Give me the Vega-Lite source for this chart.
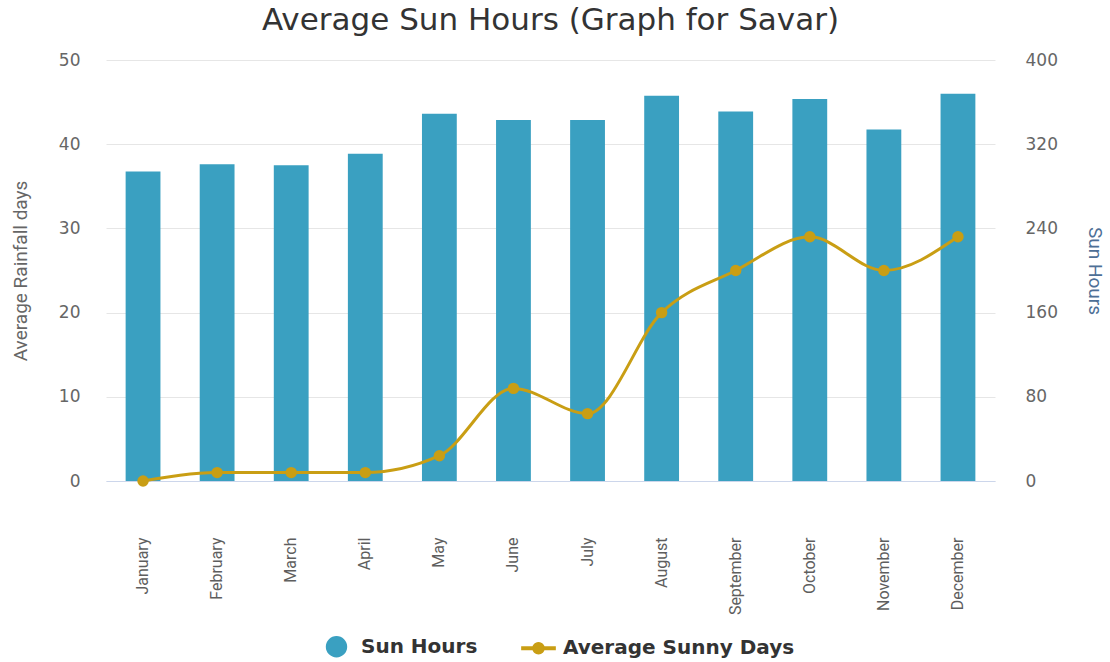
{
  "$schema": "https://vega.github.io/schema/vega-lite/v6.json",
  "width": 889,
  "height": 421,
  "autosize": {"type": "none"},
  "padding": {"left": 106, "top": 60, "right": 115, "bottom": 181},
  "background": "white",
  "title": {
    "text": "Average Sun Hours (Graph for Savar)",
    "font": "DejaVu Sans",
    "fontSize": 31,
    "fontWeight": "normal",
    "color": "#333333",
    "offset": 14,
    "anchor": "middle"
  },
  "data": {
    "values": [
      {"month": "January", "sun_hours": 294, "sunny_days": 0},
      {"month": "February", "sun_hours": 301, "sunny_days": 1},
      {"month": "March", "sun_hours": 300, "sunny_days": 1},
      {"month": "April", "sun_hours": 311, "sunny_days": 1},
      {"month": "May", "sun_hours": 349, "sunny_days": 3},
      {"month": "June", "sun_hours": 343, "sunny_days": 11},
      {"month": "July", "sun_hours": 343, "sunny_days": 8},
      {"month": "August", "sun_hours": 366, "sunny_days": 20},
      {"month": "September", "sun_hours": 351, "sunny_days": 25},
      {"month": "October", "sun_hours": 363, "sunny_days": 29},
      {"month": "November", "sun_hours": 334, "sunny_days": 25},
      {"month": "December", "sun_hours": 368, "sunny_days": 29}
    ]
  },
  "encoding": {
    "x": {
      "field": "month",
      "type": "nominal",
      "sort": null,
      "scale": {"paddingInner": 0.53, "paddingOuter": 0.265},
      "axis": {
        "title": null,
        "labelAngle": -90,
        "labelFont": "Liberation Sans Narrow, Roboto, sans-serif",
        "labelFontSize": 16,
        "labelColor": "#5e5e5e",
        "labelPadding": 56,
        "ticks": false,
        "tickSize": 0,
        "domainColor": "#ccd6eb",
        "domainWidth": 1,
        "grid": false
      }
    }
  },
  "layer": [
    {
      "mark": {"type": "bar", "color": "#3aa0c1"},
      "encoding": {
        "y": {
          "field": "sun_hours",
          "type": "quantitative",
          "scale": {"domain": [0, 400], "nice": false},
          "axis": {
            "orient": "right",
            "title": "Sun Hours",
            "values": [0, 80, 160, 240, 320, 400],
            "grid": false,
            "domain": false,
            "ticks": false,
            "labelPadding": 30,
            "labelFont": "DejaVu Sans",
            "labelFontSize": 17,
            "labelColor": "#666666",
            "titleFont": "Liberation Sans Narrow, Roboto, sans-serif",
            "titleFontSize": 19,
            "titleFontWeight": "normal",
            "titleColor": "#4d6f96",
            "titlePadding": 27
          }
        },
        "color": {
          "datum": "Sun Hours",
          "type": "nominal",
          "scale": {"domain": ["Sun Hours", "Average Sunny Days"], "range": ["#3aa0c1", "#c99e14"]},
          "legend": {
            "title": null,
            "orient": "none",
            "direction": "horizontal",
            "legendX": 213,
            "legendY": 569,
            "symbolSize": 1100,
            "labelFont": "DejaVu Sans",
            "labelFontWeight": "bold",
            "labelFontSize": 20,
            "labelColor": "#333333",
            "labelOffset": 7,
            "labelLimit": 400,
            "columnPadding": 40,
            "encode": {
              "symbols": {
                "update": {
                  "shape": {"signal": "datum.value === 'Sun Hours' ? 'M0.6,0A0.6,0.6,0,1,1,-0.6,0A0.6,0.6,0,1,1,0.6,0Z' : 'M-1,-0.08L1,-0.08L1,0.08L-1,0.08Z M0.33,0A0.33,0.33,0,1,1,-0.33,0A0.33,0.33,0,1,1,0.33,0Z'"},
                  "fill": {"signal": "datum.value === 'Sun Hours' ? '#3aa0c1' : '#c99e14'"},
                  "stroke": {"value": "transparent"},
                  "opacity": {"value": 1},
                  "fillOpacity": {"value": 1}
                }
              }
            }
          }
        }
      }
    },
    {
      "mark": {
        "type": "line",
        "interpolate": "monotone",
        "strokeWidth": 3,
        "point": {"size": 130, "filled": true, "opacity": 1}
      },
      "encoding": {
        "y": {
          "field": "sunny_days",
          "type": "quantitative",
          "scale": {"domain": [0, 50], "nice": false},
          "axis": {
            "orient": "left",
            "title": "Average Rainfall days",
            "values": [0, 10, 20, 30, 40, 50],
            "grid": true,
            "gridColor": "#e6e6e6",
            "domain": false,
            "ticks": false,
            "labelPadding": 26,
            "labelFont": "DejaVu Sans",
            "labelFontSize": 17,
            "labelColor": "#666666",
            "titleFont": "Liberation Sans Narrow, Roboto, sans-serif",
            "titleFontSize": 19,
            "titleFontWeight": "normal",
            "titleColor": "#666666",
            "titlePadding": 28
          }
        },
        "color": {"datum": "Average Sunny Days", "type": "nominal"}
      }
    }
  ],
  "resolve": {"scale": {"y": "independent"}},
  "config": {"view": {"stroke": null}}
}
